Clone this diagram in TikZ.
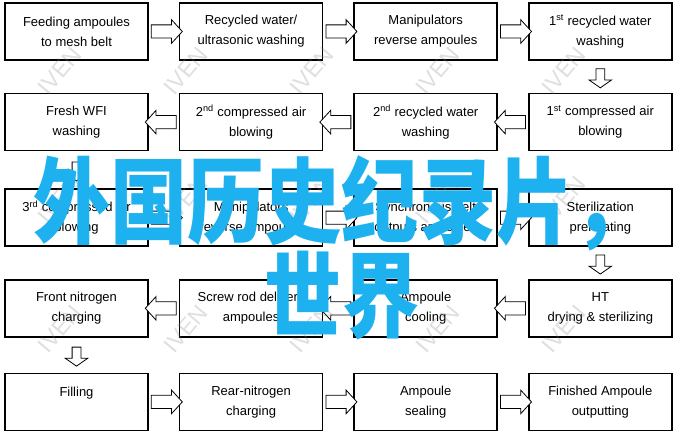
\documentclass[tikz,border=0pt]{standalone}
\usepackage{fontspec}
\setmainfont{Liberation Sans}
\newfontfamily\cjkfont{Noto Sans CJK SC}
\usetikzlibrary{positioning,shapes.arrows}
\definecolor{zhblue}{RGB}{29,177,240}

\begin{document}
\begin{tikzpicture}[x=1pt, y=1pt, node distance=30pt,
    stepbox/.style={draw, line width=1.6pt, fill=white, minimum width=143pt,
        minimum height=57pt, align=center, font=\fontsize{13}{20}\selectfont},
    harr/.style={single arrow, draw, line width=0.8pt, fill=white, sloped,
        allow upside down, minimum height=31pt, inner xsep=0pt, inner ysep=6.2pt,
        single arrow head extend=5.2pt, single arrow tip angle=95},
    varr/.style={harr, minimum height=19pt, inner ysep=4pt,
        single arrow head extend=6.8pt, single arrow tip angle=110},
    wmark/.style={rotate=50, text=gray, opacity=0.25, font=\fontsize{23}{23}\selectfont},
    zhtext/.style={anchor=base, text=zhblue, font=\cjkfont\bfseries\fontsize{94}{95}\selectfont}
    ]
\fill[white] (0,0) rectangle (683,-436);
\useasboundingbox (0,0) rectangle (683,-436);
% row 1
\node[stepbox] (a1) at (76.5,-31.5) {Feeding ampoules\\to mesh belt};
\node[stepbox] (a2) [right=of a1] {Recycled water/\\ultrasonic washing};
\node[stepbox] (a3) [right=of a2] {Manipulators\\reverse ampoules};
\node[stepbox] (a4) [right=of a3] {1\textsuperscript{st} recycled water\\washing};
% row 2
\node[stepbox] (b1) [below=32pt of a1] {Fresh WFI\\washing};
\node[stepbox] (b2) [right=of b1] {2\textsuperscript{nd} compressed air\\blowing};
\node[stepbox] (b3) [right=of b2] {2\textsuperscript{nd} recycled water\\washing};
\node[stepbox] (b4) [right=of b3] {1\textsuperscript{st} compressed air\\blowing};
% row 3
\node[stepbox] (c1) [below=37pt of b1] {3\textsuperscript{rd} compressed air\\blowing};
\node[stepbox] (c2) [right=of c1] {Manipulators\\reverse ampoules};
\node[stepbox] (c3) [right=of c2] {Synchronous belt\\outputs ampoules};
\node[stepbox] (c4) [right=of c3] {Sterilization\\preheating};
% row 4
\node[stepbox] (d1) [below=32pt of c1] {Front nitrogen\\charging};
\node[stepbox] (d2) [right=of d1] {Screw rod delivers\\ampoules};
\node[stepbox] (d3) [right=of d2] {Ampoule\\cooling};
\node[stepbox] (d4) [right=of d3] {HT\\drying \& sterilizing};
% row 5
\node[stepbox] (e1) [below=35pt of d1] {Filling\\\mbox{}};
\node[stepbox] (e2) [right=of e1] {Rear-nitrogen\\charging};
\node[stepbox] (e3) [right=of e2] {Ampoule\\sealing};
\node[stepbox] (e4) [right=of e3] {Finished Ampoule\\outputting};
% arrows
\path
(a1) -- node[harr] {} (a2)
(a2) -- node[harr] {} (a3)
(a3) -- node[harr] {} (a4)
(a4) -- node[varr] {} (b4)
(b4) -- node[harr] {} (b3)
(b3) -- node[harr] {} (b2)
(b2) -- node[harr] {} (b1)
(b1) -- node[varr] {} (c1)
(c1) -- node[harr] {} (c2)
(c2) -- node[harr] {} (c3)
(c3) -- node[harr] {} (c4)
(c4) -- node[varr] {} (d4)
(d4) -- node[harr] {} (d3)
(d3) -- node[harr] {} (d2)
(d2) -- node[harr] {} (d1)
(d1) -- node[varr] {} (e1)
(e1) -- node[harr] {} (e2)
(e2) -- node[harr] {} (e3)
(e3) -- node[harr] {} (e4)
;
% watermark
\foreach \wx in {60,186,312,438,564}
  \foreach \wy in {71,200,329}
    \node[wmark] (wm-\wx-\wy) at (\wx,-\wy) {IVEN};
% overlay
\node[zhtext] (zh1) at (342,-236) {\scalebox{0.82}[1]{外国历史纪录片，}};
\node[zhtext] (zh2) at (342,-330) {\scalebox{0.82}[1]{世界}};
\end{tikzpicture}
\end{document}
